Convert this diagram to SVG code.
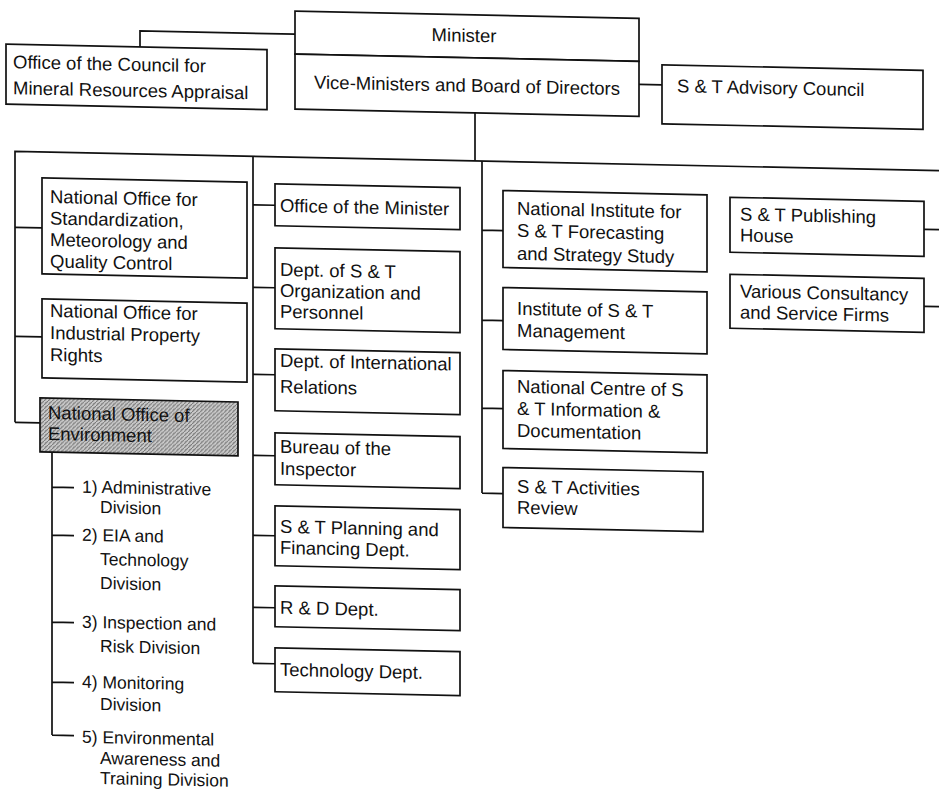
<svg xmlns="http://www.w3.org/2000/svg" width="939" height="793" viewBox="0 0 939 793">
<style>
  .bx { fill: #ffffff; stroke: #111; stroke-width: 1.7; }
  .sh { fill: url(#stip); stroke: #111; stroke-width: 1.7; }
  .t { font-family: "Liberation Sans", Arial, Helvetica, sans-serif; font-size: 18.5px; fill: #111; }
  .s { font-family: "Liberation Sans", Arial, Helvetica, sans-serif; font-size: 17.5px; fill: #111; }
  .ln { fill: none; stroke: #111; stroke-width: 1.7; }
</style>
<defs>
  <pattern id="stip" width="4" height="4" patternUnits="userSpaceOnUse">
    <rect width="4" height="4" fill="#cccccc"/>
    <path d="M0,4 L4,0" stroke="#6e6e6e" stroke-width="0.9"/>
    <rect x="1" y="1" width="1" height="1" fill="#8a8a8a"/>
  </pattern>
</defs>
<rect width="939" height="793" fill="#ffffff"/>
<g transform="skewY(1.2)">
  <g id="connectors" class="ln">
    <path d="M140,44 V28 H295"/>
    <path d="M639,71 H662"/>
    <path d="M475,103 V151"/>
    <path d="M15,422 V151 H939"/>
    <path d="M15,227 H42 M15,336 H42 M15,422 H40"/>
    <path d="M253,151 V658 M253,199.5 H275 M253,282 H275 M253,369 H275 M253,450 H275 M253,530 H275 M253,602 H275 M253,658 H275"/>
    <path d="M482,151 V483 M482,220 H503 M482,310 H503 M482,398 H503 M482,483 H503"/>
    <path d="M924,210 H939 M924,287 H939"/>
    <path d="M52,451 V734 M52,486 H74 M52,534 H74 M52,621 H74 M52,681 H74 M52,734 H74"/>
  </g>

  <g id="minister">
    <rect class="bx" x="295" y="5" width="344" height="43"/>
    <text class="t" x="464" y="32" text-anchor="middle">Minister</text>
  </g>
  <g id="vice-ministers">
    <rect class="bx" x="295" y="48" width="344" height="55"/>
    <text class="t" x="467" y="82" text-anchor="middle">Vice-Ministers and Board of Directors</text>
  </g>
  <g id="council-mineral">
    <rect class="bx" x="6" y="44" width="261" height="60"/>
    <text class="t" x="13" y="68">Office of the Council for</text>
    <text class="t" x="13" y="94">Mineral Resources Appraisal</text>
  </g>
  <g id="advisory-council">
    <rect class="bx" x="662" y="51" width="261" height="59"/>
    <text class="t" x="677" y="78">S &amp; T Advisory Council</text>
  </g>

  <g id="standardization">
    <rect class="bx" x="42" y="177" width="205" height="96"/>
    <text class="t" x="50" y="202">National Office for</text>
    <text class="t" x="50" y="223.5">Standardization,</text>
    <text class="t" x="50" y="245">Meteorology and</text>
    <text class="t" x="50" y="266.5">Quality Control</text>
  </g>
  <g id="industrial-property">
    <rect class="bx" x="42" y="298" width="205" height="79"/>
    <text class="t" x="50" y="316">National Office for</text>
    <text class="t" x="50" y="338">Industrial Property</text>
    <text class="t" x="50" y="360">Rights</text>
  </g>
  <g id="environment">
    <rect class="sh" x="40" y="397" width="198" height="54"/>
    <text class="t" x="48" y="418">National Office of</text>
    <text class="t" x="48" y="439">Environment</text>
  </g>

  <g id="env-divisions">
    <text class="s" x="82" y="491">1) Administrative</text>
    <text class="s" x="100" y="511">Division</text>
    <text class="s" x="82" y="539">2) EIA and</text>
    <text class="s" x="100" y="563">Technology</text>
    <text class="s" x="100" y="587">Division</text>
    <text class="s" x="82" y="626">3) Inspection and</text>
    <text class="s" x="100" y="650">Risk Division</text>
    <text class="s" x="82" y="686">4) Monitoring</text>
    <text class="s" x="100" y="708">Division</text>
    <text class="s" x="82" y="741">5) Environmental</text>
    <text class="s" x="100" y="762">Awareness and</text>
    <text class="s" x="100" y="782">Training Division</text>
  </g>

  <g id="office-minister">
    <rect class="bx" x="275" y="178" width="185" height="42"/>
    <text class="t" x="280" y="206">Office of the Minister</text>
  </g>
  <g id="organization-personnel">
    <rect class="bx" x="275" y="242" width="185" height="81"/>
    <text class="t" x="280" y="270">Dept. of S &amp; T</text>
    <text class="t" x="280" y="291">Organization and</text>
    <text class="t" x="280" y="312">Personnel</text>
  </g>
  <g id="international-relations">
    <rect class="bx" x="275" y="343" width="185" height="62"/>
    <text class="t" x="280" y="361">Dept. of International</text>
    <text class="t" x="280" y="387">Relations</text>
  </g>
  <g id="inspector">
    <rect class="bx" x="275" y="427" width="185" height="52"/>
    <text class="t" x="280" y="447">Bureau of the</text>
    <text class="t" x="280" y="469">Inspector</text>
  </g>
  <g id="planning-financing">
    <rect class="bx" x="275" y="500" width="185" height="60"/>
    <text class="t" x="280" y="527">S &amp; T Planning and</text>
    <text class="t" x="280" y="548">Financing Dept.</text>
  </g>
  <g id="rd-dept">
    <rect class="bx" x="275" y="580" width="185" height="41"/>
    <text class="t" x="280" y="608">R &amp; D Dept.</text>
  </g>
  <g id="technology-dept">
    <rect class="bx" x="275" y="642" width="185" height="44"/>
    <text class="t" x="280" y="670">Technology Dept.</text>
  </g>

  <g id="forecasting">
    <rect class="bx" x="503" y="180" width="204" height="77"/>
    <text class="t" x="517" y="204">National Institute for</text>
    <text class="t" x="517" y="226">S &amp; T Forecasting</text>
    <text class="t" x="517" y="249">and Strategy Study</text>
  </g>
  <g id="management">
    <rect class="bx" x="503" y="277" width="204" height="62"/>
    <text class="t" x="517" y="304">Institute of S &amp; T</text>
    <text class="t" x="517" y="326">Management</text>
  </g>
  <g id="information-documentation">
    <rect class="bx" x="503" y="360" width="204" height="78"/>
    <text class="t" x="517" y="382">National Centre of S</text>
    <text class="t" x="517" y="404">&amp; T Information &amp;</text>
    <text class="t" x="517" y="426">Documentation</text>
  </g>
  <g id="activities-review">
    <rect class="bx" x="503" y="457" width="200" height="60"/>
    <text class="t" x="517" y="482">S &amp; T Activities</text>
    <text class="t" x="517" y="503">Review</text>
  </g>

  <g id="publishing-house">
    <rect class="bx" x="730" y="182" width="194" height="55"/>
    <text class="t" x="740" y="205">S &amp; T Publishing</text>
    <text class="t" x="740" y="226">House</text>
  </g>
  <g id="consultancy-firms">
    <rect class="bx" x="730" y="259" width="194" height="54"/>
    <text class="t" x="740" y="282">Various Consultancy</text>
    <text class="t" x="740" y="303">and Service Firms</text>
  </g>
</g>
</svg>
